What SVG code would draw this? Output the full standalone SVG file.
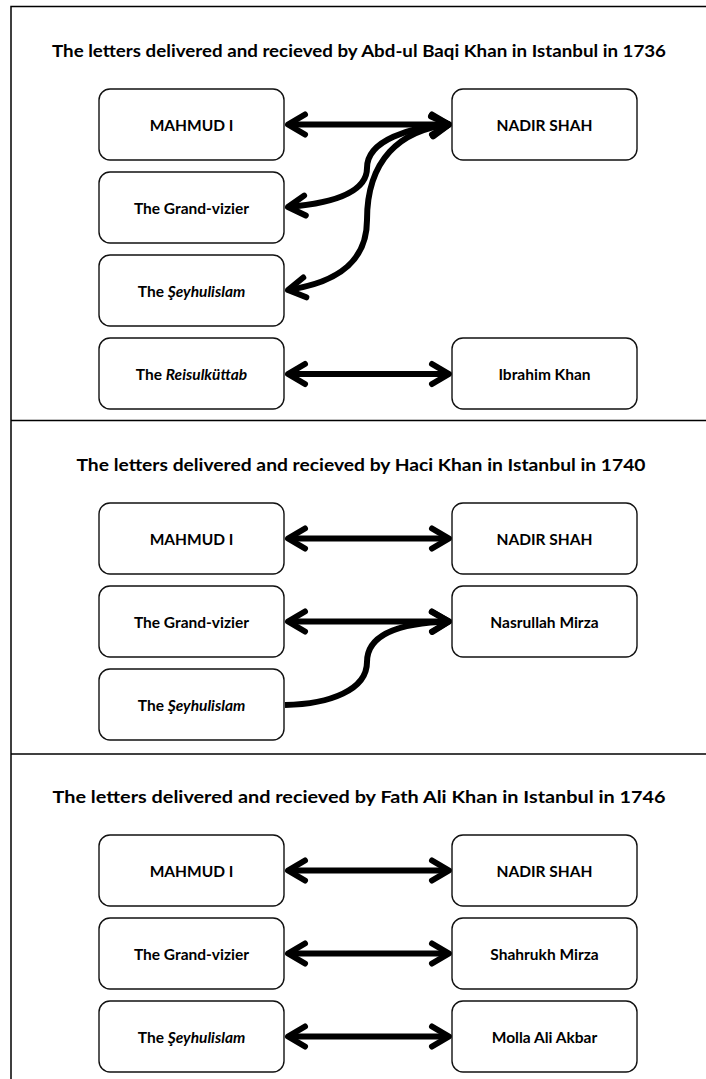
<svg xmlns="http://www.w3.org/2000/svg" width="706" height="1079" viewBox="0 0 706 1079">
<defs>
<style>
.frame{fill:none;stroke:#000;stroke-width:1.5}
.box{fill:#fff;stroke:#111;stroke-width:1.4}
.title{font-family:Lato,"Liberation Sans",sans-serif;font-weight:bold;font-size:17px;fill:#000;text-anchor:middle;dominant-baseline:central}
.lbl{font-family:Lato,"Liberation Sans",sans-serif;font-weight:bold;font-size:15.5px;fill:#000;text-anchor:middle;dominant-baseline:central}
.con{fill:none;stroke:#000;stroke-width:6}
.both{marker-start:url(#head);marker-end:url(#head)}
.endonly{marker-end:url(#head)}
</style>
<marker id="head" markerUnits="userSpaceOnUse" viewBox="-30 -20 40 40" refX="0" refY="0" markerWidth="40" markerHeight="40" orient="auto-start-reverse" overflow="visible">
<path d="M-17 -10 L0 0 L-17 10" fill="none" stroke="#000" stroke-width="6" stroke-linecap="round" stroke-linejoin="round"/>
</marker>
</defs>
<rect width="706" height="1079" fill="#fff"/>
<g id="frame">
<rect class="frame" x="11" y="6.5" width="720" height="1100"/>
<line class="frame" x1="11" y1="420.5" x2="706" y2="420.5"/>
<line class="frame" x1="11" y1="754" x2="706" y2="754"/>
</g>
<g id="titles">
<text class="title" x="359" y="50" textLength="614" lengthAdjust="spacingAndGlyphs">The letters delivered and recieved by Abd-ul Baqi Khan in Istanbul in 1736</text>
<text class="title" x="361" y="464" textLength="569" lengthAdjust="spacingAndGlyphs">The letters delivered and recieved by Haci Khan in Istanbul in 1740</text>
<text class="title" x="359" y="796" textLength="613" lengthAdjust="spacingAndGlyphs">The letters delivered and recieved by Fath Ali Khan in Istanbul in 1746</text>
</g>
<g id="connectors">
<path class="con both" d="M288 124.5 L449 124.5"/>
<path class="con both" d="M288 207 C335 203 367 192 367 168 C367 140 410 127 449 124.5"/>
<path class="con both" d="M288 290 C340 282 367 260 367 220 C367 160 400 130 449 124.5"/>
<path class="con both" d="M288 374 L449 374"/>
<path class="con both" d="M288 538.5 L449 538.5"/>
<path class="con both" d="M288 621.5 L449 621.5"/>
<path class="con endonly" d="M285 705 C330 704 367 690 367 662 C367 636 395 623 449 621.5"/>
<path class="con both" d="M288 870.5 L449 870.5"/>
<path class="con both" d="M288 953.5 L449 953.5"/>
<path class="con both" d="M288 1036.5 L449 1036.5"/>
</g>
<g id="s1-mahmud"><rect class="box" x="99" y="89" width="185" height="71" rx="11"/><text class="lbl" x="191.5" y="124.5">MAHMUD I</text></g>
<g id="s1-nadir"><rect class="box" x="452" y="89" width="185" height="71" rx="11"/><text class="lbl" x="544.5" y="124.5">NADIR SHAH</text></g>
<g id="s1-vizier"><rect class="box" x="99" y="172" width="185" height="71" rx="11"/><text class="lbl" x="191.5" y="207.5">The Grand-vizier</text></g>
<g id="s1-seyh"><rect class="box" x="99" y="255" width="185" height="71" rx="11"/><text class="lbl" x="191.5" y="290.5">The <tspan font-style="italic">Şeyhulislam</tspan></text></g>
<g id="s1-reis"><rect class="box" x="99" y="338" width="185" height="71" rx="11"/><text class="lbl" x="191.5" y="373.5">The <tspan font-style="italic">Reisulküttab</tspan></text></g>
<g id="s1-ibrahim"><rect class="box" x="452" y="338" width="185" height="71" rx="11"/><text class="lbl" x="544.5" y="373.5">Ibrahim Khan</text></g>
<g id="s2-mahmud"><rect class="box" x="99" y="503" width="185" height="71" rx="11"/><text class="lbl" x="191.5" y="538.5">MAHMUD I</text></g>
<g id="s2-nadir"><rect class="box" x="452" y="503" width="185" height="71" rx="11"/><text class="lbl" x="544.5" y="538.5">NADIR SHAH</text></g>
<g id="s2-vizier"><rect class="box" x="99" y="586" width="185" height="71" rx="11"/><text class="lbl" x="191.5" y="621.5">The Grand-vizier</text></g>
<g id="s2-nasrullah"><rect class="box" x="452" y="586" width="185" height="71" rx="11"/><text class="lbl" x="544.5" y="621.5">Nasrullah Mirza</text></g>
<g id="s2-seyh"><rect class="box" x="99" y="669" width="185" height="71" rx="11"/><text class="lbl" x="191.5" y="704.5">The <tspan font-style="italic">Şeyhulislam</tspan></text></g>
<g id="s3-mahmud"><rect class="box" x="99" y="835" width="185" height="71" rx="11"/><text class="lbl" x="191.5" y="870.5">MAHMUD I</text></g>
<g id="s3-nadir"><rect class="box" x="452" y="835" width="185" height="71" rx="11"/><text class="lbl" x="544.5" y="870.5">NADIR SHAH</text></g>
<g id="s3-vizier"><rect class="box" x="99" y="918" width="185" height="71" rx="11"/><text class="lbl" x="191.5" y="953.5">The Grand-vizier</text></g>
<g id="s3-shahrukh"><rect class="box" x="452" y="918" width="185" height="71" rx="11"/><text class="lbl" x="544.5" y="953.5">Shahrukh Mirza</text></g>
<g id="s3-seyh"><rect class="box" x="99" y="1001" width="185" height="71" rx="11"/><text class="lbl" x="191.5" y="1036.5">The <tspan font-style="italic">Şeyhulislam</tspan></text></g>
<g id="s3-molla"><rect class="box" x="452" y="1001" width="185" height="71" rx="11"/><text class="lbl" x="544.5" y="1036.5">Molla Ali Akbar</text></g>
</svg>
